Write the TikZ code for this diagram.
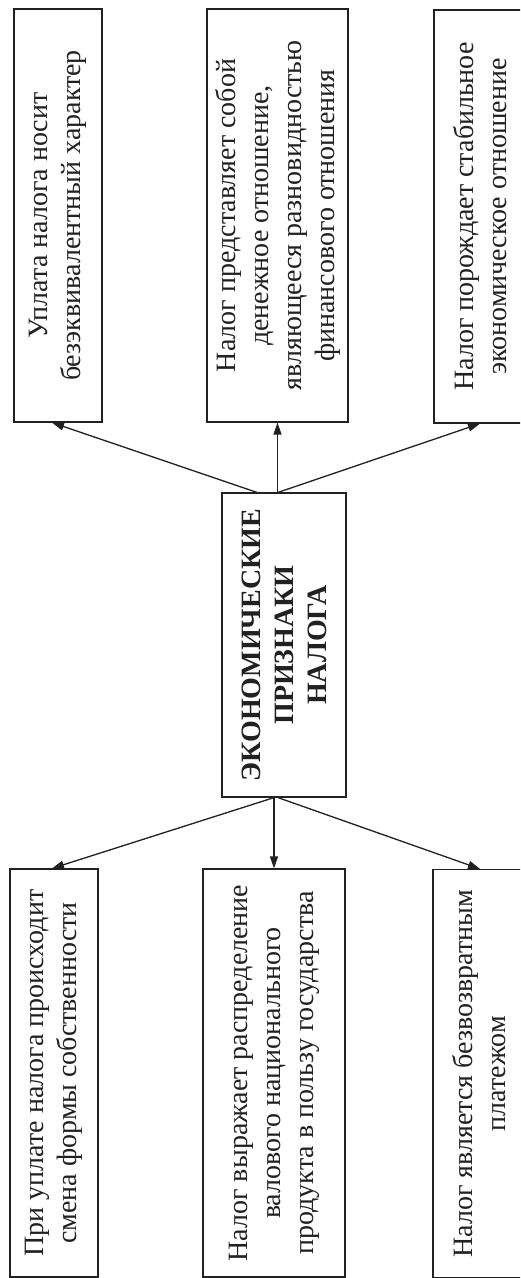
\documentclass[tikz,border=0pt]{standalone}
\usepackage{fontspec}
\setmainfont{Liberation Serif}
\usetikzlibrary{arrows.meta}
\definecolor{ink}{gray}{0.13}
\begin{document}
\begin{tikzpicture}[x=1pt,y=-1pt,
  box/.style={draw=ink, line width=1.2pt, rotate=90, align=center, inner sep=0pt,
              font=\fontsize{28}{33}\selectfont, text=ink},
  link/.style={draw=ink, line width=1.3pt, -{Triangle[length=12pt,width=8pt]}},
]
\useasboundingbox (0,0) rectangle (520,1278);
\fill[white] (0,0) rectangle (520,1278);
\clip (0,0) rectangle (520,1278);

% central node
\node[box, minimum width=304pt, minimum height=124pt] (ctr) at (284,645)
  {\bfseries ЭКОНОМИЧЕСКИЕ\\ \bfseries ПРИЗНАКИ\\ \bfseries НАЛОГА};

% upper row
\node[box, minimum width=413pt, minimum height=88pt] (A) at (58,215.5)
  {Уплата налога носит\\безэквивалентный характер};
\node[box, minimum width=413pt, minimum height=141pt] (B) at (277.5,215.5)
  {Налог представляет собой\\денежное отношение,\\являющееся разновидностью\\финансового отношения};
\node[box, minimum width=413pt, minimum height=92pt] (C) at (480,216.5)
  {Налог порождает стабильное\\экономическое отношение};

% lower row
\node[box, minimum width=408pt, minimum height=88pt] (D) at (54,1073)
  {При уплате налога происходит\\смена формы собственности};
\node[box, minimum width=408pt, minimum height=142pt] (E) at (274,1073)
  {Налог выражает распределение\\валового национального\\продукта в пользу государства};
\node[box, minimum width=408pt, minimum height=92pt] (F) at (479,1073.5)
  {Налог является безвозвратным\\платежом};

% connectors upward
\draw[link] ([xshift=-27pt]ctr.east) -- ([xshift=-6pt]A.west);
\draw[link] ([xshift=-6.5pt]ctr.east) -- (B.west);
\draw[link] ([xshift=-6pt]ctr.east) -- (C.west);

% connectors downward
\draw[link] ([xshift=-10pt]ctr.west) -- ([xshift=-2pt]D.east);
\draw[link] ([xshift=-10pt]ctr.west) -- (E.east);
\draw[link] ([xshift=-6pt]ctr.west) -- ([xshift=1pt]F.east);
\end{tikzpicture}
\end{document}
